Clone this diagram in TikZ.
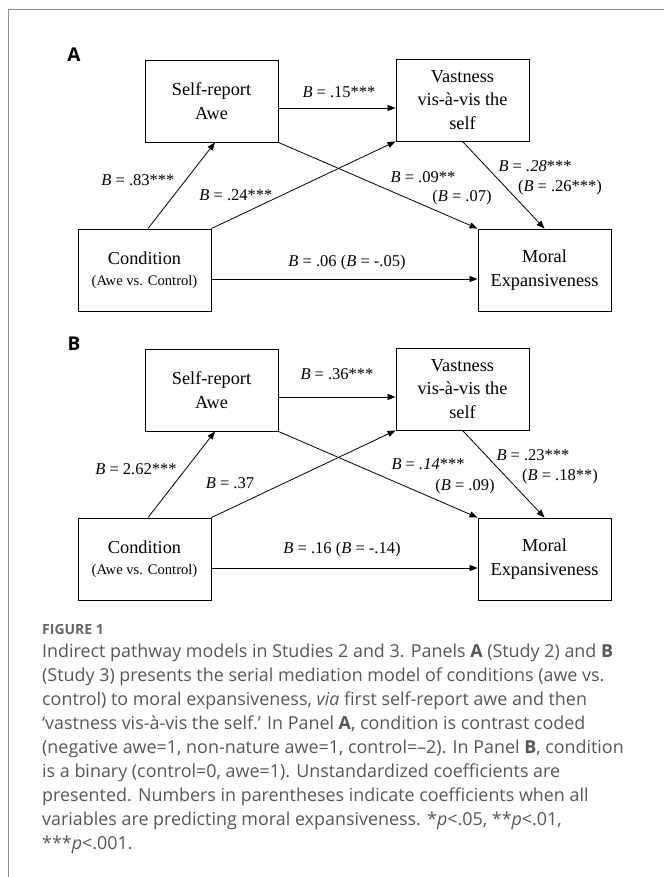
\documentclass[tikz,border=0pt]{standalone}
\usepackage{fontspec}
\setmainfont{Liberation Serif}
\newfontfamily\capfont{Open Sans}
\usepackage{tikz}
\usetikzlibrary{arrows.meta,positioning}

\begin{document}
\begin{tikzpicture}[
    x=1pt, y=-1pt,
    % 方框样式
    box style/.style={
        rectangle,           % 矩形
        draw,                % 边框
        line width=0.9pt,
        minimum width=133pt,
        minimum height=82pt,
        inner sep=0pt,
        align=center,
        font=\fontsize{18.3}{23.5}\selectfont
    },
    % 系数标签样式
    label style/.style={
        inner sep=0pt,
        font=\fontsize{16.5}{20}\selectfont
    },
    % 箭头样式
    path style/.style={
        draw,
        line width=0.8pt,
        -{Triangle[length=8pt,width=6pt]}
    },
    % 面板字母
    panel style/.style={
        inner sep=0pt,
        font=\capfont\bfseries\fontsize{19}{21}\selectfont
    }
]
\useasboundingbox (0,0) rectangle (664,877);

% 外框
\draw[black!45, line width=1.4pt] (8.3,877) -- (8.3,9.5) -- (664,9.5);

% 面板 A
\node[panel style] (panelA) at (74,55) {A};
\node[box style] (selfA) at (211.5,101) {Self-report\\Awe};
\node[box style] (vastA) at (462.5,100) {Vastness\\vis-à-vis the\\self};
\node[box style] (condA) at (144.5,270) {Condition\\[-2pt]{\fontsize{14.6}{18}\selectfont (Awe vs. Control)}};
\node[box style] (moralA) at (544.5,270) {Moral\\Expansiveness};

\draw[path style] ([xshift=3.5pt]condA.north) -- ([xshift=3.5pt]selfA.south);
\draw[path style] (condA.north east) -- (vastA.south west);
\draw[path style] (selfA.south east) -- (moralA.north west);
\draw[path style] (vastA.south) -- (moralA.north);
\draw[path style] ([yshift=-7pt]selfA.east) -- ([yshift=-7pt]selfA.east -| vastA.west);
\draw[path style] ([yshift=-9pt]condA.east) -- ([yshift=-9pt]condA.east -| moralA.west);

\node[label style] (lab15) at (339,92) {\textit{B} = .15***};
\node[label style] (lab83) at (138,180) {\textit{B} = .83***};
\node[label style] (lab24) at (236,195) {\textit{B} = .24***};
\node[label style] (lab09) at (423,177) {\textit{B} = .09**};
\node[label style] (lab07) at (462,198) {(\textit{B} = .07)};
\node[label style] (lab28) at (535,166) {\textit{B} = \textit{.28}***};
\node[label style] (lab26) at (560,188) {(\textit{B} = .26***)};
\node[label style] (lab06) at (347,263) {\textit{B} = .06 (\textit{B} = -.05)};

% 面板 B
\node[panel style] (panelB) at (74,344) {B};
\node[box style] (selfB) at (211.5,390) {Self-report\\Awe};
\node[box style] (vastB) at (462.5,389) {Vastness\\vis-à-vis the\\self};
\node[box style] (condB) at (144.5,559) {Condition\\[-2pt]{\fontsize{14.6}{18}\selectfont (Awe vs. Control)}};
\node[box style] (moralB) at (544.5,559) {Moral\\Expansiveness};

\draw[path style] ([xshift=3.5pt]condB.north) -- ([xshift=3.5pt]selfB.south);
\draw[path style] (condB.north east) -- (vastB.south west);
\draw[path style] (selfB.south east) -- (moralB.north west);
\draw[path style] (vastB.south) -- (moralB.north);
\draw[path style] ([yshift=-7pt]selfB.east) -- ([yshift=-7pt]selfB.east -| vastB.west);
\draw[path style] ([yshift=-9pt]condB.east) -- ([yshift=-9pt]condB.east -| moralB.west);

\node[label style] (lab36) at (337,374) {\textit{B} = .36***};
\node[label style] (lab262) at (136,469) {\textit{B} = 2.62***};
\node[label style] (lab37) at (230,483) {\textit{B} = .37};
\node[label style] (lab14) at (428,464) {\textit{B} = \textit{.14}***};
\node[label style] (labB09) at (465,487) {(\textit{B} = .09)};
\node[label style] (lab23) at (533,455) {\textit{B} = .23***};
\node[label style] (lab18) at (560,477) {(\textit{B} = .18**)};
\node[label style] (lab16) at (342,550) {\textit{B} = .16 (\textit{B} = -.14)};

% 图注
\node[anchor=base west, inner sep=0pt, text=black!60, font=\capfont\bfseries\fontsize{14}{16}\selectfont] (figlabel) at (42,634) {FIGURE 1};
\node[anchor=north west, inner sep=0pt, align=left, text=black!66, font=\capfont\fontsize{17.9}{24}\selectfont] (caption) at (42,644) {%
Indirect pathway models in Studies 2 and 3. Panels \textbf{A} (Study 2) and \textbf{B}\\
(Study 3) presents the serial mediation model of conditions (awe vs.\\
control) to moral expansiveness, \textit{via} first self-report awe and then\\
‘vastness vis-à-vis the self.’ In Panel \textbf{A}, condition is contrast coded\\
(negative awe=1, non-nature awe=1, control=–2). In Panel \textbf{B}, condition\\
is a binary (control=0, awe=1). Unstandardized coefficients are\\
presented. Numbers in parentheses indicate coefficients when all\\
variables are predicting moral expansiveness. *\textit{p}<.05, **\textit{p}<.01,\\
***\textit{p}<.001.};
\end{tikzpicture}
\end{document}
